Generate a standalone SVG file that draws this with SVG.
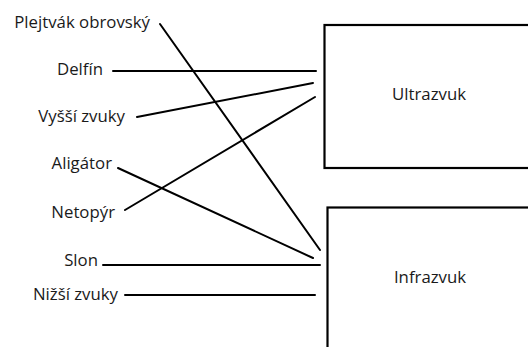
<svg xmlns="http://www.w3.org/2000/svg" width="528" height="347" viewBox="0 0 528 347">
<style>
text{font-family:"Open Sans","Noto Sans","DejaVu Sans",sans-serif;font-size:16.8px;fill:#1a1a1a}
.lbl{text-anchor:end}
.box{fill:#fff;stroke:#000;stroke-width:2.2}
.c line{stroke:#000;stroke-width:2;stroke-linecap:round}
</style>
<rect width="528" height="347" fill="#fff"/>
<g id="n-ultrazvuk"><rect class="box" x="324.5" y="25" width="215" height="143"/><text x="429" y="100" text-anchor="middle">Ultrazvuk</text></g>
<g id="n-infrazvuk"><rect class="box" x="327.5" y="207.5" width="215" height="160"/><text x="430" y="283" text-anchor="middle">Infrazvuk</text></g>
<g id="n-plejtvak"><text class="lbl" x="150" y="28">Plejtvák obrovský</text></g>
<g id="n-delfin"><text class="lbl" x="103" y="75">Delfín</text></g>
<g id="n-vyssi"><text class="lbl" x="125" y="122">Vyšší zvuky</text></g>
<g id="n-aligator"><text class="lbl" x="112" y="169">Aligátor</text></g>
<g id="n-netopyr"><text class="lbl" x="115" y="218">Netopýr</text></g>
<g id="n-slon"><text class="lbl" x="98" y="266">Slon</text></g>
<g id="n-nizsi"><text class="lbl" x="118" y="300">Nižší zvuky</text></g>
<g class="c" id="connectors">
<line x1="160" y1="24" x2="320" y2="250"/>
<line x1="113" y1="71" x2="316" y2="71"/>
<line x1="137" y1="117" x2="313" y2="83"/>
<line x1="125" y1="210" x2="315" y2="97"/>
<line x1="118" y1="168" x2="313" y2="258"/>
<line x1="103" y1="265" x2="320" y2="265"/>
<line x1="125" y1="295" x2="315" y2="295"/>
</g>
</svg>
